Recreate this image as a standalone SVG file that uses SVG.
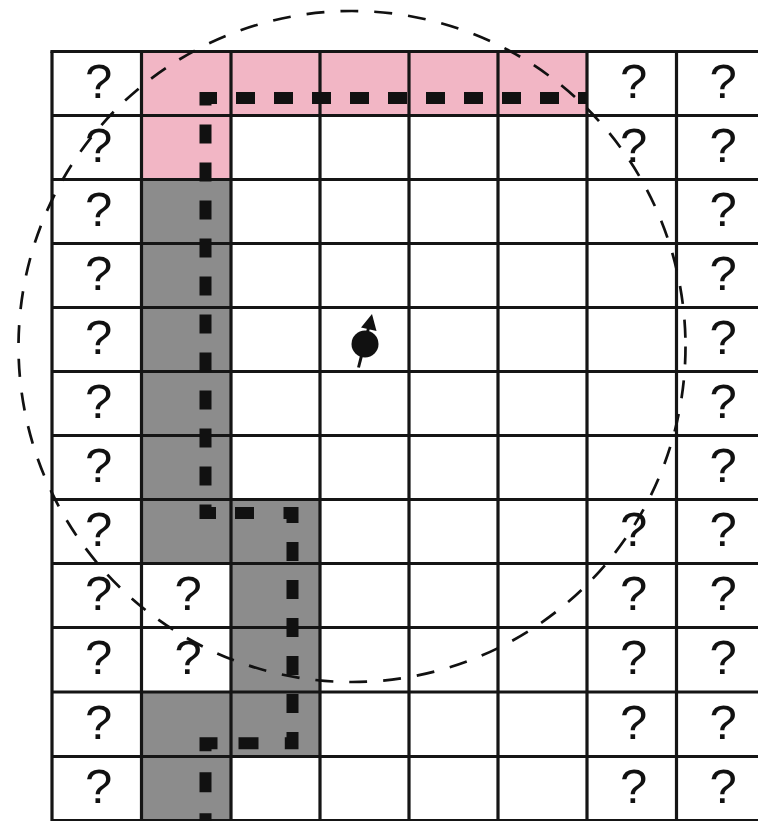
<svg xmlns="http://www.w3.org/2000/svg" width="758" height="821" viewBox="0 0 758 821">
<style>
.pink{fill:#f2b6c5}
.gray{fill:#8c8c8c}
.grid{stroke:#151515;stroke-width:3.2;fill:none}
.q{font-family:"Liberation Sans",Arial,sans-serif;font-size:49px;fill:#111;text-anchor:middle}
.path{fill:none;stroke:#111;stroke-width:12;stroke-linejoin:miter;stroke-linecap:butt}
.circ{fill:none;stroke:#111;stroke-width:2.7;stroke-dasharray:18 16}
</style>
<rect width="758" height="821" fill="#fff"/>
<g id="cells">
<rect class="pink" x="141.5" y="51.5" width="445.5" height="64"/>
<rect class="pink" x="141.5" y="115.5" width="89.5" height="64"/>
<rect class="gray" x="141.5" y="179.5" width="89.5" height="384"/>
<rect class="gray" x="231" y="499.5" width="89" height="257"/>
<rect class="gray" x="141.5" y="692" width="89.5" height="135"/>
</g>
<g id="grid" class="grid">
<path d="M52,51.5V830 M141.5,51.5V830 M231,51.5V830 M320,51.5V830 M409,51.5V830 M498,51.5V830 M587,51.5V830 M676.5,51.5V830"/>
<path d="M50.4,51.5H770 M52,115.5H770 M52,179.5H770 M52,243.5H770 M52,307.5H770 M52,371.5H770 M52,435.5H770 M52,499.5H770 M52,563.5H770 M52,627.5H770 M52,692H770 M52,756.5H770 M52,820.5H770"/>
</g>
<g id="unknowns" class="q">
<text x="98.75" y="98">?</text><text x="98.75" y="162">?</text><text x="98.75" y="226">?</text><text x="98.75" y="290">?</text><text x="98.75" y="354">?</text><text x="98.75" y="418">?</text><text x="98.75" y="482">?</text><text x="98.75" y="546">?</text><text x="98.75" y="610">?</text><text x="98.75" y="674">?</text><text x="98.75" y="738.5">?</text><text x="98.75" y="803">?</text>
<text x="188.25" y="610">?</text><text x="188.25" y="674">?</text>
<text x="633.75" y="98">?</text><text x="633.75" y="162">?</text><text x="633.75" y="546">?</text><text x="633.75" y="610">?</text><text x="633.75" y="674">?</text><text x="633.75" y="738.5">?</text><text x="633.75" y="803">?</text>
<text x="723.25" y="98">?</text><text x="723.25" y="162">?</text><text x="723.25" y="226">?</text><text x="723.25" y="290">?</text><text x="723.25" y="354">?</text><text x="723.25" y="418">?</text><text x="723.25" y="482">?</text><text x="723.25" y="546">?</text><text x="723.25" y="610">?</text><text x="723.25" y="674">?</text><text x="723.25" y="738.5">?</text><text x="723.25" y="803">?</text>
</g>
<g id="range">
<ellipse class="circ" cx="352" cy="346.5" rx="333.5" ry="335.5"/>
</g>
<g id="connectors">
<path class="path" d="M587,98H205.5V513H262" stroke-dasharray="19 19" stroke-dashoffset="10"/>
<path class="path" d="M283.5,513H292.5V743.3H272" stroke-dasharray="19 19"/>
<path class="path" d="M258.5,743.3H205.5V830" stroke-dasharray="20 21"/>
</g>
<g id="agent">
<line x1="358.5" y1="367.5" x2="368.5" y2="328" stroke="#111" stroke-width="3"/>
<circle cx="365" cy="344" r="13.5" fill="#111"/>
<polygon points="372,314 361,327.5 376.5,331" fill="#111"/>
</g>
</svg>
